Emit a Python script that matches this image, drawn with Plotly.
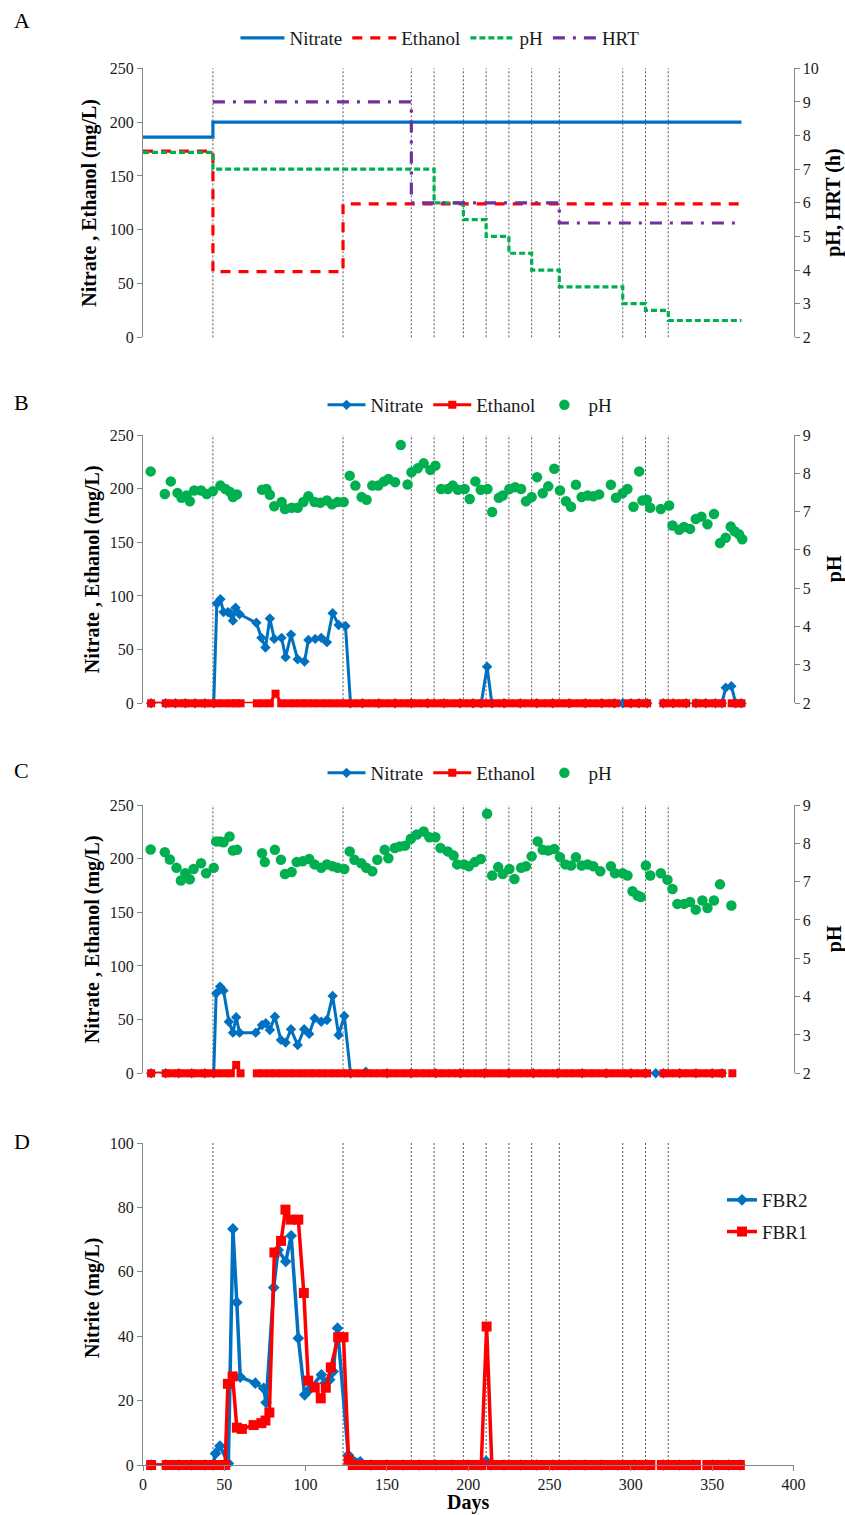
import plotly.graph_objects as go

# ---------------- data ----------------
PHASE_DAYS = [43, 123, 165, 179, 197, 211, 225, 239, 256, 295, 309, 323]

# Panel A: operating conditions (step changes)
A_NO3_DAYS = [0, 43, 368]
A_NO3 = [186, 200, 200]
A_ETH_DAYS = [0, 43, 123, 368]
A_ETH = [173, 61, 124, 124]
A_PH_DAYS = [0, 43, 179, 197, 211, 225, 239, 256, 295, 309, 323, 368]
A_PH = [7.5, 7.0, 6.0, 5.5, 5.0, 4.5, 4.0, 3.5, 3.0, 2.8, 2.5, 2.5]
A_HRT_DAYS = [43, 165, 256, 368]
A_HRT = [9, 6, 5.4, 5.4]

# Panel B (FBR1)
B_PH_DAYS = [4.7, 13.4, 17.1, 21.2, 23.7, 26.8, 28.8, 31.5, 35.7, 39.2,
             42.9, 47.6, 50.7, 53.6, 55.3, 57.8, 73.2, 75.9, 78.0, 80.7,
             85.2, 87.3, 91.4, 95.1, 98.6, 101.7, 105.5, 109.0, 113.1, 116.2,
             119.7, 123.4, 127.1, 130.6, 134.4, 137.5, 141.0, 144.7, 148.2, 150.9,
             155.0, 158.5, 162.7, 165.1, 168.9, 172.6, 176.7, 179.8, 183.3, 187.4,
             190.5, 193.6, 197.8, 200.9, 204.4, 207.7, 211.8, 214.7, 218.8, 221.2,
             225.3, 228.8, 232.5, 235.5, 239.0, 242.3, 245.8, 249.2, 252.9, 256.4,
             260.1, 263.2, 266.2, 269.7, 273.4, 276.9, 280.5, 287.7, 290.8, 294.9,
             297.9, 301.6, 305.1, 307.1, 309.8, 311.9, 318.4, 323.5, 325.6, 329.7,
             332.7, 336.4, 339.9, 343.4, 347.1, 351.1, 354.8, 358.3, 361.4, 363.8,
             366.5, 368.5]
B_PH = [8.05, 7.46, 7.79, 7.49, 7.36, 7.42, 7.27, 7.55, 7.55, 7.46,
        7.53, 7.68, 7.59, 7.51, 7.38, 7.45, 7.57, 7.59, 7.44, 7.14,
        7.25, 7.07, 7.10, 7.10, 7.25, 7.40, 7.25, 7.23, 7.29, 7.19,
        7.25, 7.25, 7.94, 7.68, 7.38, 7.31, 7.68, 7.68, 7.79, 7.85,
        7.77, 8.74, 7.71, 8.03, 8.13, 8.26, 8.09, 8.20, 7.59, 7.59,
        7.68, 7.57, 7.59, 7.33, 7.79, 7.57, 7.59, 6.99, 7.36, 7.42,
        7.59, 7.64, 7.59, 7.27, 7.38, 7.90, 7.48, 7.66, 8.12, 7.55,
        7.27, 7.13, 7.70, 7.38, 7.42, 7.40, 7.45, 7.70, 7.36, 7.48,
        7.59, 7.13, 8.05, 7.29, 7.31, 7.10, 7.07, 7.16, 6.64, 6.53,
        6.60, 6.55, 6.81, 6.87, 6.67, 6.94, 6.18, 6.32, 6.61, 6.49,
        6.41, 6.28]
B_NO3_DAYS = [5, 14, 20, 26, 32, 38, 43.5, 45.4, 47.6, 49.5,
              52.2, 53.6, 55.3, 56.9, 59.4, 69.7, 72.8, 75.3, 78.0, 80.7,
              85.2, 87.7, 91.0, 95.1, 99.3, 101.7, 105.9, 109.6, 113.1, 116.6,
              120.3, 124.5, 127.6, 135, 145, 155, 165, 175, 185, 195,
              203, 208, 211.6, 214.5, 222, 232, 242, 252, 262, 272,
              282, 290, 295, 300, 305, 310, None, 320, 326, 334,
              None, 340, 346, 352, 356, 358.3, 361.8, 364.5, 368]
B_NO3 = [0, 0, 0, 0, 0, 0, 0, 93, 97, 85,
         85, 84, 77, 89, 83, 75, 61, 52, 79, 60,
         61, 43, 64, 41, 39, 59, 60, 61, 57, 84,
         73, 72, 0, 0, 0, 0, 0, 0, 0, 0,
         0, 0, 34, 0, 0, 0, 0, 0, 0, 0,
         0, 0, 0, 0, 0, 0, None, 0, 0, 0,
         None, 0, 0, 0, 0, 14.6, 16, 0, 0]
B_ETH_DAYS = [5, 14, 18, 22, 26, 30, 34, 38, 42, 46,
              50, 54, 57, 60, 70, 74, 78, 81.5, 85, 89,
              93, 97, 101, 105, 109, 113, 117, 121, 125, 129,
              133, 137, 141, 145, 149, 153, 157, 161, 165, 169,
              173, 177, 181, 185, 189, 193, 197, 201, 205, 209,
              213, 217, 221, 225, 229, 233, 237, 241, 245, 249,
              253, 257, 261, 265, 269, 273, 277, 281, 285, 288,
              291, None, 298, 302, 306, 310, None, 320, 324, 328,
              331, 334, None, 340, 344, 348, 352, 356, None, 362,
              365, 368]
B_ETH = [0, 0, 0, 0, 0, 0, 0, 0, 0, 0,
         0, 0, 0, 0, 0, 0, 0, 9, 0, 0,
         0, 0, 0, 0, 0, 0, 0, 0, 0, 0,
         0, 0, 0, 0, 0, 0, 0, 0, 0, 0,
         0, 0, 0, 0, 0, 0, 0, 0, 0, 0,
         0, 0, 0, 0, 0, 0, 0, 0, 0, 0,
         0, 0, 0, 0, 0, 0, 0, 0, 0, 0,
         0, None, 0, 0, 0, 0, None, 0, 0, 0,
         0, 0, None, 0, 0, 0, 0, 0, None, 0,
         0, 0]

# Panel C (FBR2)
C_PH_DAYS = [4.7, 13.4, 16.5, 20.6, 23.3, 26.0, 28.8, 31.1, 35.7, 38.8,
             43.5, 45.0, 47.4, 49.5, 53.2, 55.3, 57.8, 73.2, 74.9, 81.1,
             84.8, 87.3, 91.4, 94.5, 98.2, 102.2, 105.5, 109.6, 113.1, 116.6,
             119.7, 123.8, 127.1, 130.0, 134.2, 137.3, 141.0, 144.1, 148.6, 150.9,
             154.8, 157.9, 161.2, 164.7, 168.4, 172.6, 176.1, 179.8, 182.9, 187.4,
             191.0, 193.2, 197.4, 200.4, 204.0, 207.7, 211.6, 214.7, 218.4, 221.2,
             225.3, 228.4, 232.5, 235.5, 239.0, 242.7, 245.8, 249.2, 252.9, 256.4,
             259.7, 263.2, 266.2, 269.7, 273.4, 276.9, 281.2, 287.7, 290.2, 294.9,
             297.9, 301.0, 304.1, 306.1, 309.2, 311.9, 318.4, 322.5, 325.6, 328.6,
             332.7, 336.4, 339.9, 344.0, 347.1, 351.1, 354.8, 361.8]
C_PH = [7.84, 7.77, 7.58, 7.36, 7.03, 7.22, 7.06, 7.33, 7.48, 7.22,
        7.36, 8.05, 8.05, 8.03, 8.18, 7.81, 7.83, 7.74, 7.51, 7.83,
        7.57, 7.20, 7.25, 7.51, 7.53, 7.59, 7.45, 7.36, 7.45, 7.40,
        7.36, 7.33, 7.79, 7.57, 7.48, 7.36, 7.27, 7.57, 7.83, 7.61,
        7.88, 7.92, 7.94, 8.12, 8.23, 8.31, 8.16, 8.16, 7.88, 7.79,
        7.68, 7.45, 7.45, 7.40, 7.51, 7.59, 8.77, 7.16, 7.38, 7.20,
        7.33, 7.07, 7.36, 7.40, 7.66, 8.05, 7.83, 7.81, 7.85, 7.64,
        7.45, 7.42, 7.64, 7.42, 7.45, 7.40, 7.27, 7.40, 7.22, 7.22,
        7.16, 6.75, 6.64, 6.60, 7.42, 7.16, 7.22, 7.05, 6.81, 6.42,
        6.42, 6.47, 6.27, 6.51, 6.31, 6.51, 6.93, 6.38]
C_NO3_DAYS = [5, 14, 22, 30, 38, 43.5, 45.0, 47.4, 49.5, 52.8,
              55.3, 57.3, 59.4, 69.3, 73.2, 75.5, 78.0, 81.1, 84.8, 87.7,
              91.0, 95.1, 99.1, 102.2, 105.5, 109.6, 113.1, 116.6, 120.3, 123.8,
              127.6, 137, 150, 165, 180, 195, 210, 225, 240, 255,
              270, 285, 300, 309, 315.3, 320, 330, 340, 350, 356]
C_NO3 = [0, 0, 0, 0, 0, 0, 74.5, 80.8, 77.0, 48.1,
         37.9, 52.2, 37.9, 37.9, 45.0, 46.6, 40.4, 52.8, 31.1, 28.6,
         41.0, 26.4, 41.0, 36.7, 51.2, 48.1, 49.7, 72.1, 35.7, 53.4,
         0, 1.5, 0, 0, 0, 0, 0, 0, 0, 0,
         0, 0, 0, 0, 0, 0, 0, 0, 0, 0]
C_ETH_DAYS = [5, 14, 18, 22, 26, 30, 34, 38, 42, 46,
              50, 54, 57.3, 60, None, 70, 74, 78, 82, 86,
              90, 94, 98, 102, 106, 110, 114, 118, 122, 126,
              130, 134, 138, 142, 146, 150, 154, 158, 162, 166,
              170, 174, 178, 182, 186, 190, 194, 198, 202, 206,
              210, 214, 218, 222, 226, 230, 234, 238, 242, 246,
              250, 254, 258, 262, 266, 270, 274, 278, 282, 286,
              290, 294, 298, 302, 306, 310, None, 320, 324, 328,
              332, 336, 340, 344, 348, 352, 356, None, 362.4]
C_ETH = [0, 0, 0, 0, 0, 0, 0, 0, 0, 0,
         0, 0, 7.8, 0, None, 0, 0, 0, 0, 0,
         0, 0, 0, 0, 0, 0, 0, 0, 0, 0,
         0, 0, 0, 0, 0, 0, 0, 0, 0, 0,
         0, 0, 0, 0, 0, 0, 0, 0, 0, 0,
         0, 0, 0, 0, 0, 0, 0, 0, 0, 0,
         0, 0, 0, 0, 0, 0, 0, 0, 0, 0,
         0, 0, 0, 0, 0, 0, None, 0, 0, 0,
         0, 0, 0, 0, 0, 0, 0, None, 0]

# Panel D: nitrite
D_FBR2_DAYS = [5, 14, 22, 30, 38, 43, 44.6, 47.3, 52.5, 55.3,
               57.7, 59.8, 69.1, 74.2, 75.7, 80.4, 83.1, 87.8, 91.1, 95.5,
               99.4, 102.1, 109.7, 112.0, 114.8, 116.9, 119.6, 126.2, 133.6, 140,
               150, 160, 170, 180, 190, 200, 208, 211, 214, 222,
               232, 242, 252, 262, 272, 282, 292, 302, 310, None,
               320, 330, 338, None, 350, 360, 367]
D_FBR2 = [0, 0, 0, 0, 0, 0, 3.6, 5.9, 0.5, 73.3,
          50.5, 27.3, 25.4, 23.8, 19.4, 55.1, 66.8, 63.2, 71.2, 39.4,
          21.8, 23.3, 28.0, 25.5, 26.5, 29.0, 42.5, 3.1, 1.0, 0,
          0, 0, 0, 0, 0, 0, 0, 1.2, 0, 0,
          0, 0, 0, 0, 0, 0, 0, 0, 0, None,
          0, 0, 0, None, 0, 0, 0]
D_FBR1_DAYS = [5, 14.6, 18, 22, 26, 30, 34, 38, 42, 46,
               50.5, 52.2, 55.1, 57.7, 60.8, 68.0, 72.8, 75.3, 77.7, 80.8,
               84.9, 87.6, 90.7, 95.5, 98.9, 101.6, 105.6, 109.3, 112.4, 115.5,
               120.0, 123.3, 126.4, 129, 133, 137, 141, 145, 149, 153,
               157, 161, 165, 169, 173, 177, 181, 185, 189, 193,
               197, 201, 205, 208, 211.3, 214.5, 218, 222, 226, 230,
               234, 238, 242, 246, 250, 254, 258, 262, 266, 270,
               274, 278, 282, 286, 290, 294, 298, 302, 306, 309,
               312, None, 319, 323, 327, 331, 335, 340, None, 347,
               351, 355, 359, 363, 367]
D_FBR1 = [0, 0, 0, 0, 0, 0, 0, 0, 0, 0,
          0, 25.2, 27.5, 11.6, 11.2, 12.4, 13.0, 13.8, 16.3, 66.0,
          69.6, 79.3, 76.2, 76.2, 53.4, 26.2, 24.1, 20.7, 24.0, 30.3,
          39.7, 39.7, 1.6, 0, 0, 0, 0, 0, 0, 0,
          0, 0, 0, 0, 0, 0, 0, 0, 0, 0,
          0, 0, 0, 0, 43.0, 0, 0, 0, 0, 0,
          0, 0, 0, 0, 0, 0, 0, 0, 0, 0,
          0, 0, 0, 0, 0, 0, 0, 0, 0, 0,
          0, None, 0, 0, 0, 0, 0, 0, None, 0,
          0, 0, 0, 0, 0]

# ---------------- styling ----------------
W, H = 845, 1515
SERIF = "Liberation Serif, Times New Roman, serif"
BLUE, RED, GREEN, PURPLE = "#0070C0", "#FF0000", "#00B050", "#7030A0"
AXC = "#868686"
TXT = "#1a1a1a"
X0, X1 = 143, 793.5


def ydom(top, bot):
    return [1 - bot / H, 1 - top / H]


XDOM = [X0 / W, X1 / W]
PANELS = {"A": (68.3, 337.3), "B": (435, 703.3), "C": (805, 1073.3), "D": (1143, 1465)}

fig = go.Figure()

# ---- Panel A ----
fig.add_trace(go.Scatter(x=A_NO3_DAYS, y=A_NO3, name="Nitrate", mode="lines", line_shape="hv",
                         line=dict(color=BLUE, width=3.2), xaxis="x", yaxis="y", legend="legend"))
fig.add_trace(go.Scatter(x=A_ETH_DAYS, y=A_ETH, name="Ethanol", mode="lines", line_shape="hv",
                         line=dict(color=RED, width=3.2, dash="10px,8px"), xaxis="x", yaxis="y", legend="legend"))
fig.add_trace(go.Scatter(x=A_PH_DAYS, y=A_PH, name="pH", mode="lines", line_shape="hv",
                         line=dict(color=GREEN, width=3.2, dash="6px,3px"), xaxis="x", yaxis="y2", legend="legend"))
fig.add_trace(go.Scatter(x=A_HRT_DAYS, y=A_HRT, name="HRT", mode="lines", line_shape="hv",
                         line=dict(color=PURPLE, width=3.2, dash="12px,8px,3px,8px"), xaxis="x", yaxis="y2",
                         legend="legend"))

# ---- Panels B and C ----
for xa, yl, yr, lg, no3d, no3, ethd, eth, phd, ph in [
    ("x2", "y3", "y4", "legend2", B_NO3_DAYS, B_NO3, B_ETH_DAYS, B_ETH, B_PH_DAYS, B_PH),
    ("x3", "y5", "y6", "legend3", C_NO3_DAYS, C_NO3, C_ETH_DAYS, C_ETH, C_PH_DAYS, C_PH),
]:
    fig.add_trace(go.Scatter(x=no3d, y=no3, name="Nitrate", mode="lines+markers",
                             line=dict(color=BLUE, width=3), marker=dict(symbol="diamond", size=8, color=BLUE),
                             xaxis=xa, yaxis=yl, legend=lg, cliponaxis=False))
    fig.add_trace(go.Scatter(x=ethd, y=eth, name="Ethanol", mode="lines+markers",
                             line=dict(color=RED, width=3), marker=dict(symbol="square", size=8, color=RED),
                             xaxis=xa, yaxis=yl, legend=lg, cliponaxis=False))
    fig.add_trace(go.Scatter(x=phd, y=ph, name="pH", mode="markers",
                             marker=dict(symbol="circle", size=10.5, color=GREEN),
                             xaxis=xa, yaxis=yr, legend=lg, cliponaxis=False))

# ---- Panel D ----
fig.add_trace(go.Scatter(x=D_FBR2_DAYS, y=D_FBR2, name="FBR2", mode="lines+markers",
                         line=dict(color=BLUE, width=3.5), marker=dict(symbol="diamond", size=9, color=BLUE),
                         xaxis="x4", yaxis="y7", legend="legend4", legendgroup="g2", cliponaxis=False))
fig.add_trace(go.Scatter(x=D_FBR1_DAYS, y=D_FBR1, name="FBR1", mode="lines+markers",
                         line=dict(color=RED, width=3.5), marker=dict(symbol="square", size=10, color=RED),
                         xaxis="x4", yaxis="y7", legend="legend4", legendgroup="g1", cliponaxis=False))

# ---------------- axes ----------------
tickfont = dict(family=SERIF, size=16, color=TXT)
yax = dict(showline=True, linecolor=AXC, linewidth=1, ticks="outside", ticklen=5, tickcolor=AXC,
           tickfont=tickfont, showgrid=False, zeroline=False, automargin=False, fixedrange=True)
xhidden = dict(domain=XDOM, range=[0, 400], visible=False, showgrid=False, zeroline=False, fixedrange=True)

layout = dict(
    width=W, height=H, margin=dict(l=0, r=0, t=0, b=0),
    paper_bgcolor="white", plot_bgcolor="white", showlegend=True,
    xaxis=dict(xhidden, anchor="y"),
    yaxis=dict(yax, domain=ydom(*PANELS["A"]), range=[0, 250], dtick=50, anchor="x"),
    yaxis2=dict(yax, overlaying="y", side="right", range=[2, 10], dtick=1, anchor="x"),
    xaxis2=dict(xhidden, anchor="y3"),
    yaxis3=dict(yax, domain=ydom(*PANELS["B"]), range=[0, 250], dtick=50, anchor="x2"),
    yaxis4=dict(yax, overlaying="y3", side="right", range=[2, 9], dtick=1, anchor="x2"),
    xaxis3=dict(xhidden, anchor="y5"),
    yaxis5=dict(yax, domain=ydom(*PANELS["C"]), range=[0, 250], dtick=50, anchor="x3"),
    yaxis6=dict(yax, overlaying="y5", side="right", range=[2, 9], dtick=1, anchor="x3"),
    xaxis4=dict(domain=XDOM, range=[0, 400], dtick=50, anchor="y7", showline=True, linecolor=AXC,
                ticks="outside", ticklen=5, tickcolor=AXC, tickfont=tickfont, showgrid=False,
                zeroline=False, automargin=False, fixedrange=True),
    yaxis7=dict(yax, domain=ydom(*PANELS["D"]), range=[0, 100], dtick=20, anchor="x4"),
)

legfont = dict(family=SERIF, size=19, color=TXT)
layout["legend"] = dict(orientation="h", x=440 / W, y=1 - 38 / H, xanchor="center", yanchor="middle",
                        font=legfont, bgcolor="rgba(0,0,0,0)", itemwidth=44)
layout["legend2"] = dict(orientation="h", x=470 / W, y=1 - 405 / H, xanchor="center", yanchor="middle",
                         font=legfont, bgcolor="rgba(0,0,0,0)", itemwidth=38)
layout["legend3"] = dict(orientation="h", x=470 / W, y=1 - 773 / H, xanchor="center", yanchor="middle",
                         font=legfont, bgcolor="rgba(0,0,0,0)", itemwidth=38)
layout["legend4"] = dict(orientation="v", x=722 / W, y=1 - 1181 / H, xanchor="left", yanchor="top",
                         font=legfont, bgcolor="rgba(0,0,0,0)", tracegroupgap=4, traceorder="grouped")
fig.update_layout(**layout)

# phase boundary lines
shapes = []
for xr, yr in [("x", "y domain"), ("x2", "y3 domain"), ("x3", "y5 domain"), ("x4", "y7 domain")]:
    for d in PHASE_DAYS:
        shapes.append(dict(type="line", xref=xr, yref=yr, x0=d, x1=d, y0=0, y1=1, layer="below",
                           line=dict(color="#555555", width=1, dash="2px,2px")))
fig.update_layout(shapes=shapes)

# text annotations
ann = []
for letter, ypx in [("A", 20.7), ("B", 402), ("C", 770), ("D", 1141)]:
    ann.append(dict(text=letter, x=21.7 / W, y=1 - ypx / H, xref="paper", yref="paper",
                    showarrow=False, xanchor="center", yanchor="middle",
                    font=dict(family=SERIF, size=22, color="black")))
titlefont = dict(family=SERIF, size=20, color="black")


def vtitle(text, xpx, ypx):
    return dict(text="<b>" + text + "</b>", x=xpx / W, y=1 - ypx / H, xref="paper", yref="paper",
                showarrow=False, xanchor="center", yanchor="middle", textangle=-90, font=titlefont)


ann.append(vtitle("Nitrate , Ethanol (mg/L)", 90, (68.3 + 337.3) / 2))
ann.append(vtitle("pH, HRT (h)", 834, (68.3 + 337.3) / 2))
ann.append(vtitle("Nitrate , Ethanol (mg/L)", 92, (435 + 703.3) / 2))
ann.append(vtitle("pH", 834, (435 + 703.3) / 2))
ann.append(vtitle("Nitrate , Ethanol (mg/L)", 92, (805 + 1073.3) / 2))
ann.append(vtitle("pH", 834, (805 + 1073.3) / 2))
ann.append(vtitle("Nitrite (mg/L)", 92, 1298))
ann.append(dict(text="<b>Days</b>", x=468 / W, y=1 - 1502 / H, xref="paper", yref="paper",
                showarrow=False, xanchor="center", yanchor="middle", font=titlefont))
fig.update_layout(annotations=ann)

fig.write_html("out.html", config={"displayModeBar": False},
               post_script="document.body.style.margin='0';")
